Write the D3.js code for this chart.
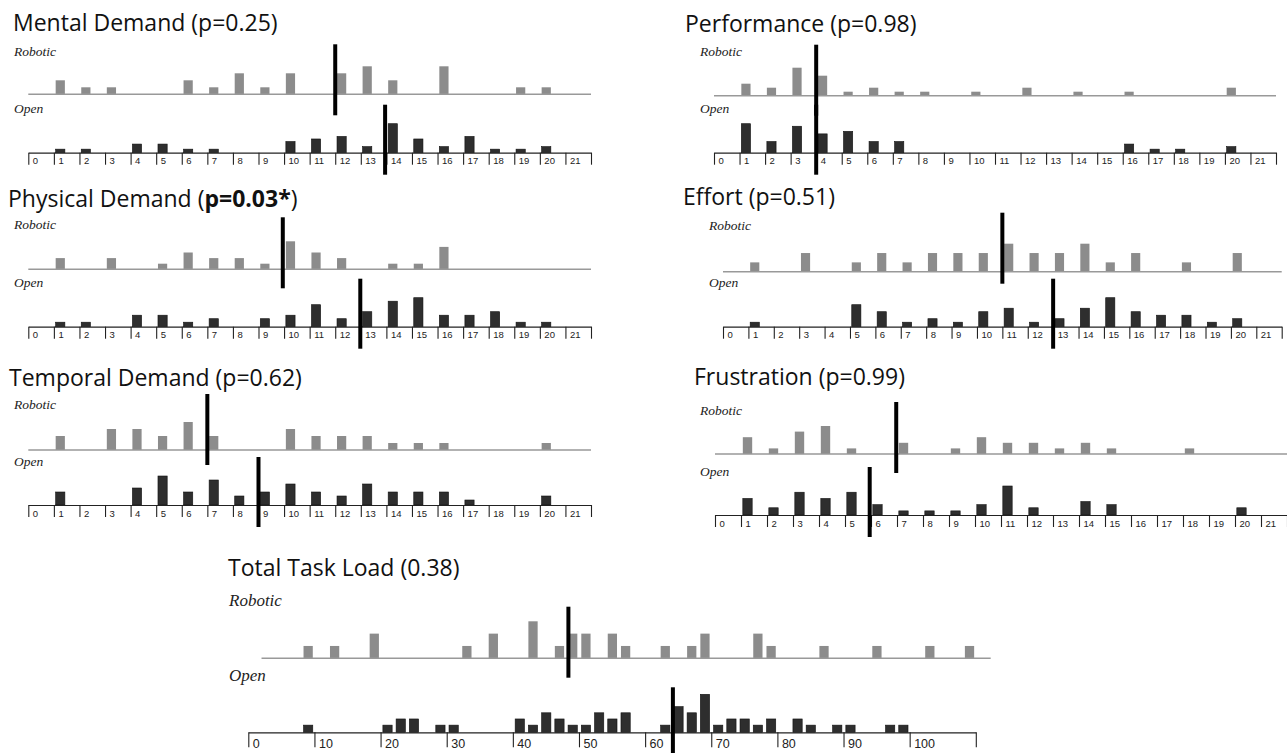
<!DOCTYPE html>
<html>
<head>
<meta charset="utf-8">
<script src="https://cdn.jsdelivr.net/npm/d3@7"></script>
<style>
  body { margin: 0; background: #fff; }
  .title { font-family: 'Open Sans', sans-serif; font-size: 23px; fill: #111; }
  .group { font-family: 'Liberation Serif', serif; font-style: italic; fill: #222; }
  .axis text { font-family: 'Liberation Sans', Arial, sans-serif; fill: #222; }
</style>
</head>
<body>
<div id="chart"></div>
<script>
// score bins shown on the small axes (0..21)
const scoreTicks = [0,1,2,3,4,5,6,7,8,9,10,11,12,13,14,15,16,17,18,19,20,21];
const ttlTicks = [0,10,20,30,40,50,60,70,80,90,100];

// counts per score, index = score
const mentalRobotic = [0,2,1,1,0,0,2,1,3,1,3,0,3,4,2,0,4,0,0,1,1,0];
const mentalOpen    = [0,1,1,0,3,3,1,1,0,0,4,5,6,2,11,5,2,6,1,1,2,0];
const perfRobotic   = [0,3,2,7,5,1,2,1,1,0,1,0,2,0,1,0,1,0,0,0,2,0];
const perfOpen      = [0,11,4,10,7,8,4,4,0,0,0,0,0,0,0,0,3,1,1,0,2,0];
const physRobotic   = [0,2,0,2,0,1,3,2,2,1,5,3,2,0,1,1,4,0,0,0,0,0];
const physOpen      = [0,1,1,0,3,3,1,2,0,2,3,6,2,4,7,8,3,3,4,1,1,0];
const effortRobotic = [0,1,0,2,0,1,2,1,2,2,2,3,2,2,3,1,2,0,1,0,2,0];
const effortOpen    = [0,1,0,0,0,6,4,1,2,1,4,5,1,2,5,8,4,3,3,1,2,0];
const tempRobotic   = [0,2,0,3,3,2,4,2,0,0,3,2,2,2,1,1,1,0,0,0,1,0];
const tempOpen      = [0,3,0,0,4,7,3,6,2,3,5,3,2,5,3,3,3,1,0,0,2,0];
const frustRobotic  = [0,3,1,4,5,1,0,2,0,1,3,2,2,1,2,1,0,0,1,0,0,0];
const frustOpen     = [0,5,2,7,5,7,3,1,1,1,3,9,2,0,4,3,0,0,0,0,2,0];

// medians [robotic, open]
const mentalMedians = [12, 13.95];
const perfMedians   = [4, 4];
const physMedians   = [9.95, 12.98];
const effortMedians = [11, 13];
const tempMedians   = [7, 9];
const frustMedians  = [6.97, 5.95];

// total task load, 2-point bins
const ttlRoboticBins   = [8,12,18,32,36,42,46,48,50,54,56,62,66,68,76,78,86,94,102,108];
const ttlRoboticCounts = [1,1,2,1,2,3,1,2,2,2,1,1,1,2,2,1,1,1,1,1];
const ttlOpenBins   = [8,20,22,24,28,30,40,42,44,46,48,50,52,54,56,62,64,66,68,70,72,74,76,78,82,84,88,90,96,98];
const ttlOpenCounts = [1,1,2,2,1,1,2,1,3,2,1,1,3,2,3,1,4,3,6,1,2,2,1,2,2,1,1,1,1,1];
const ttlMedians = [48.4, 64.2];

const toBars = (bins, counts) => bins.map((b, i) => ({bin: b, count: counts[i]}));
const smallBars = counts => toBars(scoreTicks, counts);

const small = {domain: [0, 22], tickValues: d3.range(0, 23), maxLabel: 21, lineSpan: [0, 22],
               barOff: 0.07, barW: 0.36, barMax: 28, tickSize: 12, labelSize: 9.5, labelDy: 11.5,
               groupSize: 13.5, openTop: -48, openLen: 70};

const panels = [
  {...small, title: [['Mental Demand (p=0.25)']], robotic: smallBars(mentalRobotic), open: smallBars(mentalOpen), med: mentalMedians,
   x0: 28.3, x1: 591, tx: 13, ty: 31, lx: 14, rly: 56, ry: 94.3, oly: 113, ay: 152.7, rmTop: -50},
  {...small, title: [['Performance (p=0.98)']], robotic: smallBars(perfRobotic), open: smallBars(perfOpen), med: perfMedians,
   x0: 714, x1: 1276, tx: 685, ty: 32, lx: 700, rly: 56, ry: 95.7, oly: 113, ay: 152.7, rmTop: -51},
  {...small, title: [['Physical Demand ('], ['p=0.03*', true], [')']], robotic: smallBars(physRobotic), open: smallBars(physOpen), med: physMedians,
   x0: 28.3, x1: 591, tx: 8, ty: 207, lx: 14, rly: 229, ry: 269.3, oly: 287, ay: 326.7, rmTop: -52},
  {...small, title: [['Effort (p=0.51)']], robotic: smallBars(effortRobotic), open: smallBars(effortOpen), med: effortMedians,
   x0: 723, x1: 1281.7, tx: 683, ty: 205, lx: 709, rly: 230, ry: 271.7, oly: 287, ay: 326.7, rmTop: -59},
  {...small, title: [['Temporal Demand (p=0.62)']], robotic: smallBars(tempRobotic), open: smallBars(tempOpen), med: tempMedians,
   x0: 28.3, x1: 591, tx: 9, ty: 386, lx: 14, rly: 409, ry: 450, oly: 466, ay: 505, rmTop: -56},
  {...small, title: [['Frustration (p=0.99)']], robotic: smallBars(frustRobotic), open: smallBars(frustOpen), med: frustMedians,
   x0: 715, x1: 1287, tx: 694, ty: 385, lx: 700, rly: 415, ry: 454, oly: 476, ay: 515, rmTop: -52},
  {title: [['Total Task Load (0.38)']], robotic: toBars(ttlRoboticBins, ttlRoboticCounts), open: toBars(ttlOpenBins, ttlOpenCounts), med: ttlMedians,
   domain: [0, 110], tickValues: d3.range(0, 111, 10), maxLabel: 100, lineSpan: [2, 112.25],
   barOff: 0.35, barW: 1.4, barMax: 37, tickSize: 15, labelSize: 12.5, labelDy: 15.5, groupSize: 17, openTop: -45, openLen: 75,
   x0: 248.3, x1: 975.8, tx: 228, ty: 576, lx: 229, rly: 606, ry: 658.3, oly: 681, ay: 732.3, rmTop: -51.6}
];

const svg = d3.select('#chart').append('svg')
  .attr('width', 1287)
  .attr('height', 753);

function drawPanel(p){
  const g = svg.append('g');
  const x = d3.scaleLinear().domain(p.domain).range([p.x0, p.x1]);
  const yR = d3.scaleLinear().domain([0, d3.max(p.robotic, d => d.count)]).range([0, p.barMax]);
  const yO = d3.scaleLinear().domain([0, d3.max(p.open, d => d.count)]).range([0, p.barMax]);
  const bw = x(p.barW) - x(0);

  // title
  const t = g.append('text').attr('class', 'title').attr('x', p.tx).attr('y', p.ty);
  p.title.forEach(([s, bold]) => t.append('tspan').attr('font-weight', bold ? 700 : 400).text(s));

  // group labels
  g.append('text').attr('class', 'group').attr('x', p.lx).attr('y', p.rly)
   .style('font-size', p.groupSize + 'px').text('Robotic');
  g.append('text').attr('class', 'group').attr('x', p.lx).attr('y', p.oly)
   .style('font-size', p.groupSize + 'px').text('Open');

  // robotic bars + baseline
  g.append('g').selectAll('rect')
   .data(p.robotic.filter(d => d.count > 0))
   .join('rect')
   .attr('x', d => x(d.bin + p.barOff))
   .attr('y', d => p.ry - yR(d.count))
   .attr('width', bw)
   .attr('height', d => yR(d.count))
   .attr('fill', '#8c8c8c');

  g.append('line')
   .attr('x1', x(p.lineSpan[0])).attr('x2', Math.min(x(p.lineSpan[1]), 1287))
   .attr('y1', p.ry).attr('y2', p.ry)
   .attr('stroke', '#999').attr('stroke-width', 1.6);

  // open bars
  g.append('g').selectAll('rect')
   .data(p.open.filter(d => d.count > 0))
   .join('rect')
   .attr('x', d => x(d.bin + p.barOff))
   .attr('y', d => p.ay - yO(d.count) - 1)
   .attr('width', bw)
   .attr('height', d => yO(d.count) + 1)
   .attr('fill', '#2e2e2e')
   .attr('stroke', '#111')
   .attr('stroke-width', 0.6);

  // axis
  const axis = d3.axisBottom(x)
    .tickValues(p.tickValues)
    .tickSize(p.tickSize)
    .tickSizeOuter(0)
    .tickFormat(d => d <= p.maxLabel ? d : '');
  const ag = g.append('g').attr('class', 'axis')
    .attr('transform', `translate(0,${p.ay})`)
    .call(axis);
  ag.select('.domain').attr('stroke', '#222').attr('stroke-width', 1.2);
  ag.selectAll('.tick line').attr('stroke', '#222').attr('stroke-width', 1.1);
  ag.selectAll('.tick text')
    .attr('text-anchor', 'start')
    .attr('x', 4)
    .attr('y', p.labelDy)
    .attr('dy', 0)
    .style('font-size', p.labelSize + 'px');

  // median markers
  g.append('line')
   .attr('x1', x(p.med[0])).attr('x2', x(p.med[0]))
   .attr('y1', p.ry + p.rmTop).attr('y2', p.ry + p.rmTop + 71)
   .attr('stroke', '#000').attr('stroke-width', 4);
  g.append('line')
   .attr('x1', x(p.med[1])).attr('x2', x(p.med[1]))
   .attr('y1', p.ay + p.openTop).attr('y2', p.ay + p.openTop + p.openLen)
   .attr('stroke', '#000').attr('stroke-width', 4);
}

panels.forEach(drawPanel);
</script>
</body>
</html>
